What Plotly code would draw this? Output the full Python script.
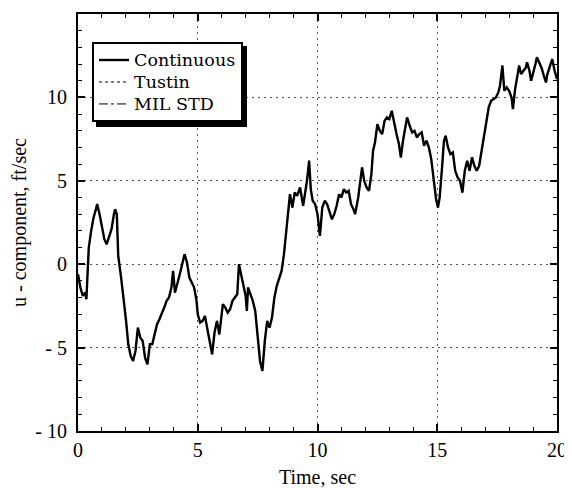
import plotly.graph_objects as go

# Time (s) and u-component (ft/sec)
time_s = [0.0, 0.1, 0.2, 0.3, 0.35, 0.4, 0.45, 0.55, 0.65, 0.75, 0.8, 0.9, 1.0, 1.1, 1.2, 1.3, 1.4, 1.5, 1.55, 1.62,
          1.68, 1.8, 1.9, 2.0, 2.1, 2.2, 2.3, 2.4, 2.5, 2.6, 2.7, 2.8, 2.9, 3.0, 3.1, 3.2, 3.3, 3.4, 3.5, 3.6,
          3.7, 3.8, 3.9, 3.97, 4.05, 4.15, 4.25, 4.35, 4.45, 4.55, 4.65, 4.75, 4.85, 4.95, 5.0, 5.1, 5.2, 5.3, 5.4, 5.5,
          5.6, 5.7, 5.8, 5.9, 6.0, 6.05, 6.15, 6.25, 6.35, 6.45, 6.55, 6.65, 6.72, 6.8, 6.9, 7.0, 7.05, 7.1, 7.2, 7.3,
          7.4, 7.5, 7.6, 7.7, 7.8, 7.9, 8.0, 8.1, 8.2, 8.3, 8.4, 8.5, 8.6, 8.7, 8.77, 8.85, 8.95, 9.05, 9.15, 9.27,
          9.4, 9.5, 9.56, 9.65, 9.72, 9.8, 9.9, 10.0, 10.1, 10.2, 10.3, 10.4, 10.5, 10.6, 10.7, 10.8, 10.9, 11.0, 11.1, 11.2,
          11.3, 11.4, 11.5, 11.57, 11.7, 11.8, 11.86, 11.95, 12.05, 12.15, 12.25, 12.32, 12.4, 12.5, 12.6, 12.7, 12.8, 12.9, 13.0, 13.1,
          13.2, 13.3, 13.4, 13.48, 13.57, 13.65, 13.74, 13.85, 13.95, 14.05, 14.15, 14.25, 14.35, 14.45, 14.55, 14.65, 14.75, 14.85, 14.95, 15.03,
          15.1, 15.2, 15.28, 15.35, 15.45, 15.55, 15.65, 15.75, 15.85, 15.95, 16.05, 16.15, 16.25, 16.35, 16.45, 16.55, 16.65, 16.75, 16.85, 16.95,
          17.05, 17.15, 17.25, 17.35, 17.45, 17.55, 17.62, 17.72, 17.8, 17.9, 18.0, 18.1, 18.16, 18.25, 18.35, 18.42, 18.5, 18.6, 18.7, 18.75,
          18.85, 18.92, 19.0, 19.1, 19.16, 19.25, 19.35, 19.45, 19.54, 19.6, 19.7, 19.8, 19.9, 20.0]

continuous_u = [-0.6, -1.4, -1.9, -1.7, -2.1, -0.5, 1.0, 2.0, 2.8, 3.3, 3.6, 3.0, 2.2, 1.5, 1.2, 1.7, 2.1, 3.0, 3.3, 3.0,
                0.5, -0.8, -2.0, -3.3, -4.8, -5.5, -5.8, -5.2, -3.8, -4.4, -4.6, -5.6, -6.0, -4.8, -4.8, -4.2, -3.6, -3.3, -3.0, -2.6,
                -2.2, -2.0, -1.4, -0.4, -1.7, -1.2, -0.6, 0.0, 0.6, 0.1, -0.8, -1.1, -1.4, -2.2, -3.0, -3.5, -3.4, -3.1, -3.8, -4.6,
                -5.4, -4.1, -3.4, -4.2, -3.0, -2.4, -2.6, -2.9, -2.7, -2.2, -2.0, -1.8, 0.0, -0.6, -1.2, -1.9, -2.8, -1.4, -1.8, -2.2,
                -2.8, -4.2, -5.8, -6.4, -4.6, -3.4, -3.8, -3.2, -2.0, -1.3, -0.8, -0.4, 0.6, 2.0, 3.2, 4.2, 3.4, 4.3, 4.1, 4.6,
                3.5, 4.4, 5.0, 6.2, 4.5, 3.8, 3.6, 3.0, 1.7, 3.4, 3.8, 3.6, 3.2, 2.7, 3.0, 3.5, 4.2, 4.0, 4.5, 4.3,
                4.4, 3.6, 3.3, 3.0, 4.0, 5.0, 5.8, 5.0, 4.6, 4.4, 5.4, 6.8, 7.3, 8.4, 8.0, 7.8, 8.6, 8.8, 8.7, 9.2,
                8.4, 7.8, 7.2, 6.4, 7.4, 8.2, 8.8, 8.3, 7.9, 8.0, 7.6, 7.8, 7.9, 7.1, 7.4, 7.0, 6.3, 5.1, 3.9, 3.4,
                4.0, 5.8, 7.4, 7.7, 7.0, 6.6, 6.7, 5.6, 5.2, 5.0, 4.3, 5.6, 6.2, 5.6, 6.4, 5.9, 5.6, 5.9, 6.8, 7.8,
                8.7, 9.4, 9.8, 9.9, 10.0, 10.3, 10.7, 11.9, 10.4, 10.6, 10.4, 10.0, 9.3, 10.5, 11.4, 11.9, 11.4, 11.6, 11.8, 12.1,
                11.6, 11.0, 11.4, 12.0, 12.4, 12.1, 11.8, 11.3, 10.9, 11.4, 11.8, 12.3, 11.6, 11.1]

# Tustin and MIL STD responses are visually indistinguishable from the continuous one
tustin_u = list(continuous_u)
milstd_u = list(continuous_u)

series_names = ["Continuous", "Tustin", "MIL STD"]

x_ticks = [0, 5, 10, 15, 20]
x_tick_labels = ["0", "5", "10", "15", "20"]
y_ticks = [-10, -5, 0, 5, 10, 15]
y_tick_labels = ["- 10", "- 5", "0", "5", "10", "15"]

FONT = "Liberation Serif, Times New Roman, serif"
LEG_FONT = "DejaVu Serif, Liberation Serif, serif"

def leg_name(s):
    return "<span style='font-size:17.5px'>" + s + "</span>"

fig = go.Figure()
fig.add_trace(go.Scatter(x=time_s, y=continuous_u, mode="lines", name=leg_name(series_names[0]),
                         line=dict(color="black", width=2.4)))
fig.add_trace(go.Scatter(x=time_s, y=tustin_u, mode="lines", name=leg_name(series_names[1]),
                         line=dict(color="black", width=1, dash="dot")))
fig.add_trace(go.Scatter(x=time_s, y=milstd_u, mode="lines", name=leg_name(series_names[2]),
                         line=dict(color="black", width=1, dash="dashdot")))

# page has an 8px body margin: the figure spans page pixels 8..572 x 8..488
OFF = 8
W, H = 572 - OFF, 488 - OFF
PL, PR, PT, PB = 78, 557, 14, 431          # plot area in page pixels
L, R, T, B = PL - OFF, 572 - PR, PT - OFF, 488 - PB
pw, ph = PR - PL, PB - PT

def px2paper_x(px):
    return (px - PL) / pw

def px2paper_y(py):
    return (PB - py) / ph

# legend drop shadow
fig.add_shape(type="rect", xref="paper", yref="paper",
              x0=px2paper_x(96), x1=px2paper_x(247), y0=px2paper_y(127), y1=px2paper_y(46),
              fillcolor="black", line=dict(width=0), layer="above")

axis_common = dict(
    showline=True, linecolor="black", linewidth=2, mirror="ticks",
    ticks="inside", ticklen=7, tickwidth=1.5, tickcolor="black",
    showgrid=True, gridcolor="#555", griddash="2px,4px", gridwidth=1,
    zeroline=False, automargin=False,
    tickfont=dict(family=FONT, size=20, color="black"),
    minor=dict(ticks="inside", ticklen=4, tickwidth=1, tickcolor="black", dtick=1, showgrid=False),
)

fig.update_xaxes(range=[0, 20], tickvals=x_ticks, ticktext=x_tick_labels, ticklabelstandoff=0,
                 title=dict(text="Time, sec", font=dict(family=FONT, size=20, color="black"), standoff=12),
                 **axis_common)
fig.update_yaxes(range=[-10, 15], tickvals=y_ticks, ticktext=y_tick_labels, ticklabelstandoff=5,
                 title=dict(text="u - component, ft/sec", font=dict(family=FONT, size=20, color="black"), standoff=8),
                 **axis_common)

fig.update_layout(
    width=W, height=H,
    margin=dict(l=L, r=R, t=T, b=B, pad=0, autoexpand=False),
    plot_bgcolor="white", paper_bgcolor="white",
    font=dict(family=FONT, color="black"),
    showlegend=True,
    legend=dict(x=px2paper_x(92), y=px2paper_y(42), xanchor="left", yanchor="top",
                bgcolor="white", bordercolor="black", borderwidth=2,
                font=dict(family=LEG_FONT, size=14.6, color="black"),
                tracegroupgap=0, itemwidth=30),
)

fig.write_html("out.html")
